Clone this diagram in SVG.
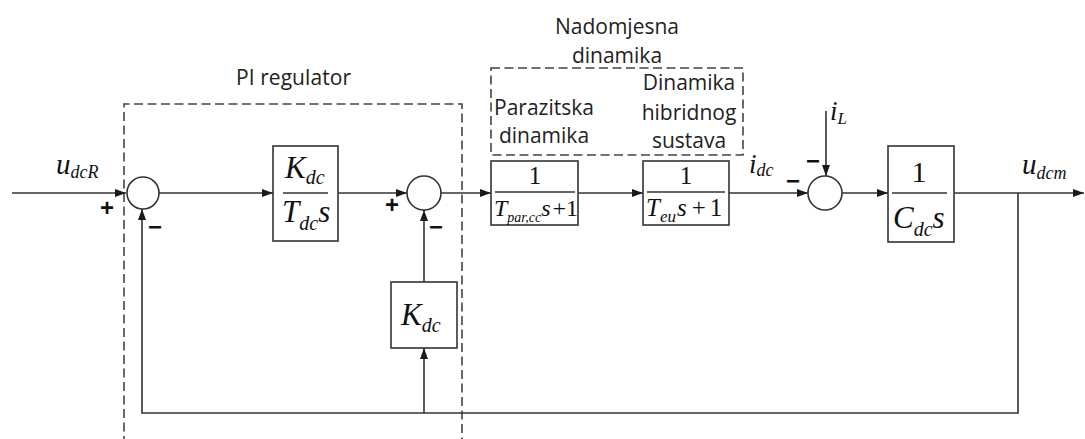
<svg xmlns="http://www.w3.org/2000/svg" width="1085" height="439" viewBox="0 0 1085 439">
<defs>
<marker id="ar" markerWidth="11" markerHeight="8" refX="11" refY="4" orient="auto" markerUnits="userSpaceOnUse">
<path d="M0,0 L11,4 L0,8 Z" fill="#1a1a1a"/>
</marker>
<style>
.ln{fill:none;stroke:#333;stroke-width:1.6}
.bx{fill:#fff;stroke:#333;stroke-width:1.6}
.ds{fill:none;stroke:#444;stroke-width:1.6;stroke-dasharray:9 4.5}
.lb{font-family:"Open Sans","Liberation Sans",sans-serif;font-size:21px;fill:#222}
.m{font-family:"Liberation Serif","Times New Roman",serif;font-style:italic;fill:#111}
.n{font-family:"Liberation Serif","Times New Roman",serif;fill:#111}
.sg{font-family:"Liberation Sans",Arial,sans-serif;font-weight:bold;font-size:24px;fill:#111}
</style>
</defs>
<rect width="1085" height="439" fill="#fff"/>

<g id="pi_region">
<path class="ds" d="M124,445 V104 H462 V445"/>
<text class="lb" x="236" y="85" textLength="115">PI regulator</text>
</g>
<g id="nad_region">
<rect class="ds" x="491" y="68" width="252" height="87"/>
<text class="lb" x="617" y="34" text-anchor="middle">Nadomjesna</text>
<text class="lb" x="617" y="63" text-anchor="middle">dinamika</text>
<text class="lb" x="544" y="115" text-anchor="middle">Parazitska</text>
<text class="lb" x="544" y="143" text-anchor="middle">dinamika</text>
<text class="lb" x="689" y="90" text-anchor="middle">Dinamika</text>
<text class="lb" x="689" y="120" text-anchor="middle">hibridnog</text>
<text class="lb" x="689" y="148" text-anchor="middle">sustava</text>
</g>

<g id="connectors">
<path class="ln" d="M12,193 H126" marker-end="url(#ar)"/>
<path class="ln" d="M159,193 H273" marker-end="url(#ar)"/>
<path class="ln" d="M338,193 H407" marker-end="url(#ar)"/>
<path class="ln" d="M441,193 H491" marker-end="url(#ar)"/>
<path class="ln" d="M578,193 H643" marker-end="url(#ar)"/>
<path class="ln" d="M729,193 H808" marker-end="url(#ar)"/>
<path class="ln" d="M842,193 H888" marker-end="url(#ar)"/>
<path class="ln" d="M954,193 H1084" marker-end="url(#ar)"/>
<path class="ln" d="M1018,193 V413 H142 V209" marker-end="url(#ar)"/>
<path class="ln" d="M424,413 V348" marker-end="url(#ar)"/>
<path class="ln" d="M424,282 V210" marker-end="url(#ar)"/>
<path class="ln" d="M826,111 V176" marker-end="url(#ar)"/>
</g>

<g id="labels">
<text class="m" x="56" y="174" font-size="29">u<tspan font-size="18" dy="4">dcR</tspan></text>
<text class="m" x="749" y="173" font-size="27">i<tspan font-size="18" dy="3">dc</tspan></text>
<text class="m" x="830" y="120" font-size="27">i<tspan font-size="17" dy="4">L</tspan></text>
<text class="m" x="1022" y="174" font-size="29">u<tspan font-size="18" dy="5">dcm</tspan></text>
<text class="sg" x="107" y="216" text-anchor="middle">+</text>
<text class="sg" x="155" y="235" text-anchor="middle">−</text>
<text class="sg" x="392" y="213" text-anchor="middle">+</text>
<text class="sg" x="436" y="235" text-anchor="middle">−</text>
<text class="sg" x="813" y="169" text-anchor="middle">−</text>
<text class="sg" x="793" y="189" text-anchor="middle">−</text>
</g>

<g id="sum1"><circle class="bx" cx="143" cy="193" r="16"/></g>
<g id="sum2"><circle class="bx" cx="424" cy="193" r="17"/></g>
<g id="sum3"><circle class="bx" cx="825" cy="193" r="17"/></g>

<g id="block_pi">
<rect class="bx" x="273" y="146" width="65" height="95"/>
<line class="ln" x1="283" y1="193" x2="328" y2="193"/>
<text class="m" x="285" y="178" font-size="31">K<tspan font-size="20" dy="6">dc</tspan></text>
<text class="m" x="282" y="222" font-size="31">T<tspan font-size="20" dy="8">dc</tspan><tspan dy="-8">s</tspan></text>
</g>

<g id="block_kdc">
<rect class="bx" x="391" y="282" width="66" height="66"/>
<text class="m" x="401" y="325" font-size="31">K<tspan font-size="20" dy="7">dc</tspan></text>
</g>

<g id="block_par">
<rect class="bx" x="491" y="161" width="87" height="64"/>
<line class="ln" x1="495" y1="192" x2="575" y2="192"/>
<text class="n" x="535" y="184" font-size="25" text-anchor="middle">1</text>
<text class="m" x="494" y="216" font-size="24">T<tspan font-size="14" dy="6">par,cc</tspan><tspan dy="-6">s</tspan><tspan font-style="normal" dx="2">+</tspan><tspan font-style="normal">1</tspan></text>
</g>

<g id="block_eu">
<rect class="bx" x="643" y="161" width="86" height="64"/>
<line class="ln" x1="647" y1="192" x2="725" y2="192"/>
<text class="n" x="686" y="184" font-size="25" text-anchor="middle">1</text>
<text class="m" x="646" y="216" font-size="25">T<tspan font-size="17" dy="6">eu</tspan><tspan dy="-6" dx="1">s</tspan><tspan font-style="normal" dx="5">+</tspan><tspan font-style="normal" dx="4">1</tspan></text>
</g>

<g id="block_cdc">
<rect class="bx" x="888" y="146" width="66" height="96"/>
<line class="ln" x1="892" y1="193" x2="947" y2="193"/>
<text class="n" x="919" y="182" font-size="30" text-anchor="middle">1</text>
<text class="m" x="893" y="228" font-size="31">C<tspan font-size="20" dy="8">dc</tspan><tspan dy="-8">s</tspan></text>
</g>
</svg>
